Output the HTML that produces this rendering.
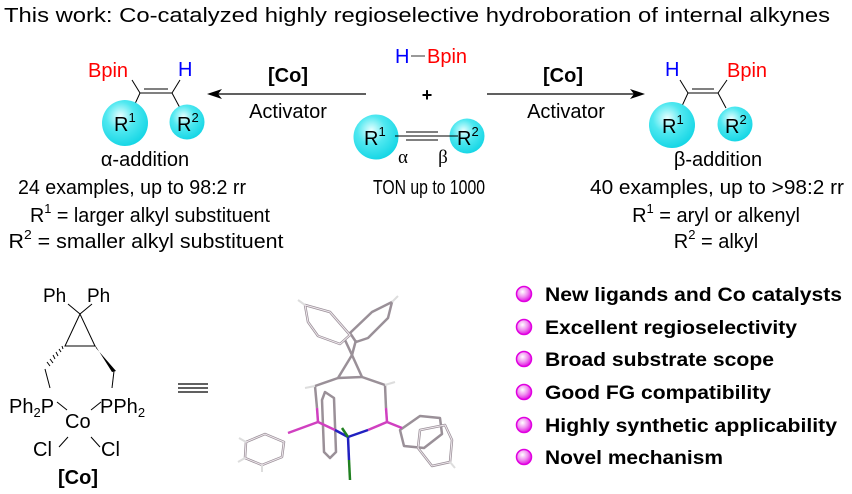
<!DOCTYPE html>
<html><head><meta charset="utf-8"><style>
html,body{margin:0;padding:0;background:#fff;}
svg{display:block;font-family:"Liberation Sans",Arial,sans-serif;}
</style></head><body>
<svg width="852" height="494" viewBox="0 0 852 494" xmlns="http://www.w3.org/2000/svg">
<defs>
<radialGradient id="cy" cx="0.4" cy="0.35" r="0.7">
<stop offset="0" stop-color="#e8ffff"/><stop offset="0.45" stop-color="#4fe8f0"/><stop offset="1" stop-color="#10d4e4"/>
</radialGradient>
<radialGradient id="mg" cx="0.4" cy="0.35" r="0.7">
<stop offset="0" stop-color="#ffffff"/><stop offset="0.5" stop-color="#f090f0"/><stop offset="1" stop-color="#e000e0"/>
</radialGradient>
</defs>

<text x="4" y="22" font-size="20" textLength="826" lengthAdjust="spacingAndGlyphs">This work: Co-catalyzed highly regioselective hydroboration of internal alkynes</text>

<!-- left product -->
<g stroke="#000" stroke-width="1" fill="none">
<line x1="132" y1="80" x2="140" y2="93"/><line x1="180" y1="80" x2="172" y2="93"/>
<line x1="140" y1="93" x2="172" y2="93"/><line x1="144" y1="89" x2="168" y2="89"/>
<line x1="140" y1="93" x2="134" y2="106"/><line x1="172" y1="93" x2="180" y2="108"/>
</g>
<circle cx="125" cy="123" r="23" fill="url(#cy)"/>
<circle cx="187" cy="122" r="17.5" fill="url(#cy)"/>
<text x="88" y="77" font-size="20" fill="#ff0000">Bpin</text>
<text x="178" y="76" font-size="20" fill="#0000ff">H</text>
<text x="114" y="131" font-size="20">R<tspan font-size="13" dy="-9">1</tspan></text>
<text x="177" y="131" font-size="20">R<tspan font-size="13" dy="-9">2</tspan></text>
<text x="145" y="166" font-size="20" text-anchor="middle">α-addition</text>

<!-- left arrow -->
<line x1="366" y1="94" x2="216" y2="94" stroke="#000" stroke-width="1.2"/>
<polygon points="207,94 222,89 218,94 222,99" fill="#000"/>
<text x="288" y="82" font-size="20" font-weight="bold" text-anchor="middle">[Co]</text>
<text x="288" y="118" font-size="20" text-anchor="middle">Activator</text>

<!-- middle -->
<text x="395" y="63" font-size="20" fill="#0000ff">H</text>
<line x1="411" y1="56" x2="425" y2="56" stroke="#555" stroke-width="1.2"/>
<text x="427" y="63" font-size="20" fill="#ff0000">Bpin</text>
<text x="427" y="101" font-size="18" font-weight="bold" text-anchor="middle">+</text>
<circle cx="376" cy="137" r="22.5" fill="url(#cy)"/>
<circle cx="467" cy="136" r="17.5" fill="url(#cy)"/>
<g stroke="#000" stroke-width="1">
<line x1="395" y1="136" x2="458" y2="136"/>
<line x1="406" y1="132" x2="438" y2="132"/><line x1="406" y1="140" x2="438" y2="140"/>
</g>
<text x="364" y="145" font-size="20">R<tspan font-size="13" dy="-9">1</tspan></text>
<text x="457" y="145" font-size="20">R<tspan font-size="13" dy="-9">2</tspan></text>
<text x="403" y="163" font-size="19" font-family="Liberation Serif,serif" text-anchor="middle">α</text>
<text x="443" y="163" font-size="19" font-family="Liberation Serif,serif" text-anchor="middle">β</text>
<text x="429" y="194" font-size="20" text-anchor="middle" textLength="112" lengthAdjust="spacingAndGlyphs">TON up to 1000</text>

<!-- right arrow -->
<line x1="487" y1="94" x2="636" y2="94" stroke="#000" stroke-width="1.2"/>
<polygon points="645,94 630,89 634,94 630,99" fill="#000"/>
<text x="563" y="82" font-size="20" font-weight="bold" text-anchor="middle">[Co]</text>
<text x="566" y="118" font-size="20" text-anchor="middle">Activator</text>

<!-- right product -->
<g stroke="#000" stroke-width="1" fill="none">
<line x1="680" y1="80" x2="688" y2="93"/><line x1="727" y1="80" x2="718" y2="93"/>
<line x1="688" y1="93" x2="718" y2="93"/><line x1="692" y1="89" x2="714" y2="89"/>
<line x1="688" y1="93" x2="682" y2="106"/><line x1="718" y1="93" x2="726" y2="108"/>
</g>
<circle cx="672" cy="125" r="23" fill="url(#cy)"/>
<circle cx="735" cy="124" r="17.5" fill="url(#cy)"/>
<text x="665" y="76" font-size="20" fill="#0000ff">H</text>
<text x="727" y="77" font-size="20" fill="#ff0000">Bpin</text>
<text x="662" y="133" font-size="20">R<tspan font-size="13" dy="-9">1</tspan></text>
<text x="725" y="133" font-size="20">R<tspan font-size="13" dy="-9">2</tspan></text>
<text x="718" y="166" font-size="20" text-anchor="middle">β-addition</text>

<!-- descriptions -->
<g font-size="20" text-anchor="middle">
<text x="132" y="194" textLength="228" lengthAdjust="spacingAndGlyphs">24 examples, up to 98:2 rr</text>
<text x="150" y="222" textLength="240" lengthAdjust="spacingAndGlyphs">R<tspan font-size="13" dy="-9">1</tspan><tspan dy="9"> = larger alkyl substituent</tspan></text>
<text x="146" y="248" textLength="275" lengthAdjust="spacingAndGlyphs">R<tspan font-size="13" dy="-9">2</tspan><tspan dy="9"> = smaller alkyl substituent</tspan></text>
<text x="717" y="194" textLength="254" lengthAdjust="spacingAndGlyphs">40 examples, up to &gt;98:2 rr</text>
<text x="716" y="222">R<tspan font-size="13" dy="-9">1</tspan><tspan dy="9"> = aryl or alkenyl</tspan></text>
<text x="716" y="248">R<tspan font-size="13" dy="-9">2</tspan><tspan dy="9"> = alkyl</tspan></text>
</g>

<!-- Co complex -->
<text x="43" y="302" font-size="19">Ph</text>
<text x="87" y="302" font-size="19">Ph</text>
<g stroke="#000" stroke-width="1" fill="none">
<line x1="68" y1="304" x2="80" y2="314"/><line x1="92" y1="304" x2="80" y2="314"/>
<polygon points="80,314 65,346 95,346"/>
<line x1="50" y1="388" x2="45" y2="369"/>
<line x1="112" y1="388" x2="114" y2="371"/>
<line x1="57" y1="402" x2="67" y2="410"/><line x1="101" y1="402" x2="91" y2="410"/>
<line x1="59" y1="447" x2="68" y2="437"/><line x1="100" y1="447" x2="91" y2="437"/>
</g>
<g stroke="#000" stroke-width="1">
<line x1="62" y1="346" x2="63" y2="349"/><line x1="59" y1="349" x2="61" y2="352"/>
<line x1="56" y1="352" x2="58" y2="356"/><line x1="53" y1="355" x2="55" y2="359"/>
<line x1="50" y1="359" x2="53" y2="363"/><line x1="47" y1="362" x2="50" y2="366"/>
</g>
<polygon points="95,345 96,348 116,371 112,372" fill="#000"/>
<text x="9" y="413" font-size="20">Ph<tspan font-size="13" dy="4">2</tspan><tspan dy="-4">P</tspan></text>
<text x="100" y="413" font-size="20">PPh<tspan font-size="13" dy="4">2</tspan></text>
<text x="65" y="428" font-size="20">Co</text>
<text x="33" y="456" font-size="20">Cl</text>
<text x="101" y="456" font-size="20">Cl</text>
<text x="78" y="484" font-size="20" font-weight="bold" text-anchor="middle">[Co]</text>

<!-- equiv -->
<g stroke="#000" stroke-width="1.2">
<line x1="178" y1="384" x2="208" y2="384"/><line x1="178" y1="388" x2="208" y2="388"/><line x1="178" y1="392" x2="208" y2="392"/>
</g>

<!-- 3D structure approximation -->
<g stroke="#9a9098" stroke-width="2.5" fill="none" stroke-linejoin="round">
<polygon points="305,305 330,312 350,335 340,344 318,336 308,322"/>
<polygon points="350,333 372,312 392,302 388,318 368,338 356,342"/>
<line x1="352" y1="355" x2="345" y2="340"/><line x1="352" y1="355" x2="356" y2="340"/>
<polygon points="352,355 338,378 362,377"/>
<line x1="338" y1="378" x2="315" y2="386"/><line x1="362" y1="377" x2="385" y2="385"/>
<line x1="315" y1="386" x2="317" y2="408"/><line x1="385" y1="385" x2="386" y2="408"/>
<polygon points="246,442 265,434 284,442 282,457 262,465 245,458"/>
<polygon points="325,392 334,398 336,452 330,458 324,452 322,400"/>
<polygon points="400,430 420,416 440,418 442,434 424,448 404,446"/>
<polygon points="420,430 445,425 452,440 450,462 432,466 418,448"/>
</g>
<g stroke="#f0e8ee" stroke-width="1" fill="none">
<polygon points="305,305 330,312 350,335 340,344 318,336 308,322"/>
<polygon points="246,442 265,434 284,442 282,457 262,465 245,458"/>
<polygon points="420,430 445,425 452,440 450,462 432,466 418,448"/>
</g>
<g stroke="#d040c0" stroke-width="2.5">
<line x1="317" y1="408" x2="318" y2="422"/><line x1="386" y1="408" x2="387" y2="422"/>
<line x1="318" y1="422" x2="288" y2="433"/><line x1="318" y1="422" x2="335" y2="430"/>
<line x1="387" y1="422" x2="368" y2="430"/><line x1="387" y1="422" x2="402" y2="428"/>
</g>
<g stroke="#2020c0" stroke-width="2.5">
<line x1="335" y1="430" x2="348" y2="437"/><line x1="368" y1="430" x2="348" y2="437"/>
<line x1="348" y1="437" x2="349" y2="460"/>
</g>
<line x1="349" y1="460" x2="350" y2="480" stroke="#208020" stroke-width="2.5"/>
<line x1="342" y1="428" x2="348" y2="437" stroke="#208020" stroke-width="2.5"/>
<g stroke="#ddd" stroke-width="2">
<line x1="305" y1="305" x2="298" y2="300"/><line x1="392" y1="302" x2="398" y2="296"/>
<line x1="246" y1="442" x2="239" y2="438"/><line x1="245" y1="458" x2="238" y2="462"/>
<line x1="262" y1="465" x2="262" y2="472"/><line x1="450" y1="462" x2="455" y2="468"/>
<line x1="315" y1="386" x2="305" y2="388"/><line x1="385" y1="385" x2="395" y2="382"/>
</g>

<!-- bullets -->
<g>
<circle cx="524" cy="294" r="7.5" fill="url(#mg)" stroke="#e000e0" stroke-width="1.5"/>
<circle cx="524" cy="327" r="7.5" fill="url(#mg)" stroke="#e000e0" stroke-width="1.5"/>
<circle cx="524" cy="359" r="7.5" fill="url(#mg)" stroke="#e000e0" stroke-width="1.5"/>
<circle cx="524" cy="392" r="7.5" fill="url(#mg)" stroke="#e000e0" stroke-width="1.5"/>
<circle cx="524" cy="425" r="7.5" fill="url(#mg)" stroke="#e000e0" stroke-width="1.5"/>
<circle cx="524" cy="457" r="7.5" fill="url(#mg)" stroke="#e000e0" stroke-width="1.5"/>
</g>
<g font-size="19" font-weight="bold">
<text x="545" y="301" textLength="297" lengthAdjust="spacingAndGlyphs">New ligands and Co catalysts</text>
<text x="545" y="334" textLength="252" lengthAdjust="spacingAndGlyphs">Excellent regioselectivity</text>
<text x="545" y="366" textLength="229" lengthAdjust="spacingAndGlyphs">Broad substrate scope</text>
<text x="545" y="399" textLength="226" lengthAdjust="spacingAndGlyphs">Good FG compatibility</text>
<text x="545" y="432" textLength="292" lengthAdjust="spacingAndGlyphs">Highly synthetic applicability</text>
<text x="545" y="464" textLength="178" lengthAdjust="spacingAndGlyphs">Novel mechanism</text>
</g>
</svg>
</body></html>
